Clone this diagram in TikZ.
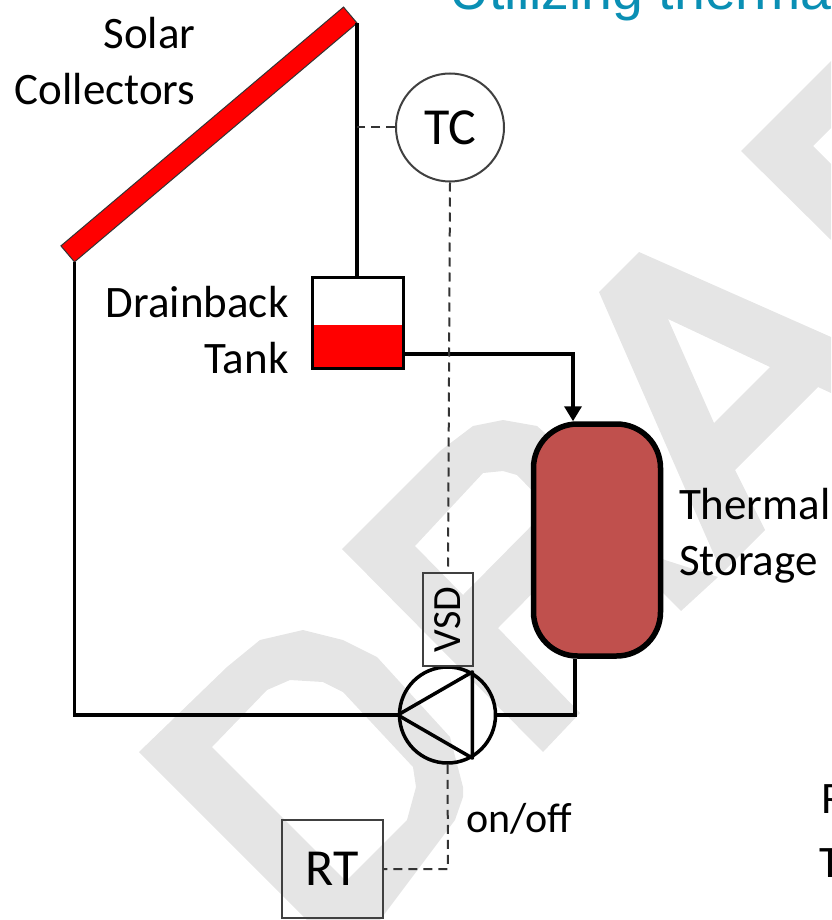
\documentclass[tikz,border=0pt]{standalone}
\usepackage{fontspec}
\setmainfont{Carlito}
\newfontfamily\titlefont{Liberation Sans}
\usetikzlibrary{arrows.meta,calc}
\definecolor{stampgray}{HTML}{E5E5E5}
\definecolor{titleblue}{HTML}{0A8FB4}
\definecolor{storagered}{HTML}{C0504D}
\definecolor{boxline}{HTML}{404040}
\tikzset{
	label45/.style={font=\fontsize{45}{56}\selectfont, inner sep=0pt, outer sep=0pt, text=black},
	pipe/.style={line width=3.5pt, black},
	signal/.style={line width=2pt, black!80, dash pattern=on 9pt off 6pt},
	thinbox/.style={draw=boxline, line width=2pt, inner sep=0pt, font=\fontsize{52}{60}\selectfont, text=black},
	stamp/.style={fill=stampgray, even odd rule},
}
\begin{document}
\begin{tikzpicture}[x=1pt,y=-1pt]
	\useasboundingbox (0,0) rectangle (831,920);
	\clip (0,0) rectangle (831,920);
	\fill[stamp] (139,752)--(227,667)--(260,640)--(303,630)--(343,640)--(377,657)--(450,737)--(463,787)--(463,797)--(455,820)--(380,920)--(307,920)--cycle
		(212,747)--(267,690)--(290,680)--(323,682)--(343,692)--(413,767)--(416,787)--(407,820)--(346,881)--cycle;
	\fill[stamp] (342,549)--(440,451)--(473,426)--(503,420)--(537,426)--(620,500)--(620,540)--(665,560)--(718,577)--(681,611)--(662,592)--(600,530)--(595,530)--(498,628)--(580,713)--(543,752)--cycle
		(415,546)--(483,473)--(503,471)--(517,475)--(549,508)--(463,595)--cycle;
	\fill[stamp] (639,252)--(831,337)--(831,393)--(818,387)--(735,470)--(765,530)--(722,573)--(599,292)--cycle
		(668,319)--(770,367)--(714,423)--cycle;
	\fill[stamp] (741,151)--(831,61)--(831,128)--(813,146)--(831,164)--(831,240)--cycle;

	\node[anchor=base west, inner sep=0pt, text=titleblue, font=\titlefont\fontsize{55.5}{60}\selectfont] (title) at (449,10) {Utilizing thermal};

	\node[draw=black!80, line width=1pt, fill=red, rotate=40.2, minimum width=370pt, minimum height=21pt, inner sep=0pt, outer sep=0pt] (collector) at (209,134.5) {};
	\fill[red] (312,325) rectangle (403,368);
	\node[draw=black, line width=3.5pt, minimum width=91pt, minimum height=91pt, inner sep=0pt] (drainback) at (358,323) {};
	\node[draw=black, line width=5.5pt, fill=storagered, rounded corners=44pt, minimum width=127pt, minimum height=232pt, inner sep=0pt] (storage) at (597,540) {};
	\node[draw=black, line width=3.5pt, fill=none, circle, minimum size=96pt, inner sep=0pt] (pump) at (447.5,715) {};
	\node[thinbox, circle, minimum size=108pt] (tc) at (450,127.5) {TC};
	\node[thinbox, rotate=90, minimum width=93pt, minimum height=50pt, font=\fontsize{40}{50}\selectfont] (vsd) at (448,619.5) {VSD};
	\node[thinbox, minimum width=101pt, minimum height=98pt] (rt) at (332,869) {RT};

	\coordinate (dischargeknee) at (573,354);
	\coordinate (returnknee) at (575,715);
	\coordinate (switchknee) at (448,869);

	\draw[pipe] (collector.south west) -- (collector.south west |- pump.west) -- (pump.west);
	\draw[pipe] (collector.south east) -- (collector.south east |- drainback.north);
	\draw[pipe, -{Stealth[length=15pt,width=17pt,inset=0pt]}] (drainback.east |- dischargeknee) -- (dischargeknee) -- (storage.north -| dischargeknee);
	\draw[pipe] (pump.east) -- (returnknee) -- (storage.south -| returnknee);
	\draw[pipe, line join=round] (pump.west) -- (pump.60) -- (pump.-60) -- cycle;

	\draw[signal] (tc.west) -- (tc.west -| collector.south east);
	\draw[signal] (tc.south) -- (vsd.east);
	\draw[signal] (pump.south) -- (switchknee) -- (rt.east |- switchknee);

	\node[label45, anchor=base east, align=right] (collectorlabel) at (195.5,105) {Solar\\Collectors};
	\node[label45, anchor=base east, align=right] (tanklabel) at (288.5,373) {Drainback\\Tank};
	\node[label45, anchor=base west, align=left] (storagelabel) at (679,575) {Thermal\\Storage};
	\node[label45, anchor=base west, font=\fontsize{42}{50}\selectfont] (switchlabel) at (466,832) {on/off};
	\node[label45, anchor=base west] (legendrt) at (821,813) {R};
	\node[label45, anchor=base west] (legendtc) at (819,877) {T};
\end{tikzpicture}
\end{document}
